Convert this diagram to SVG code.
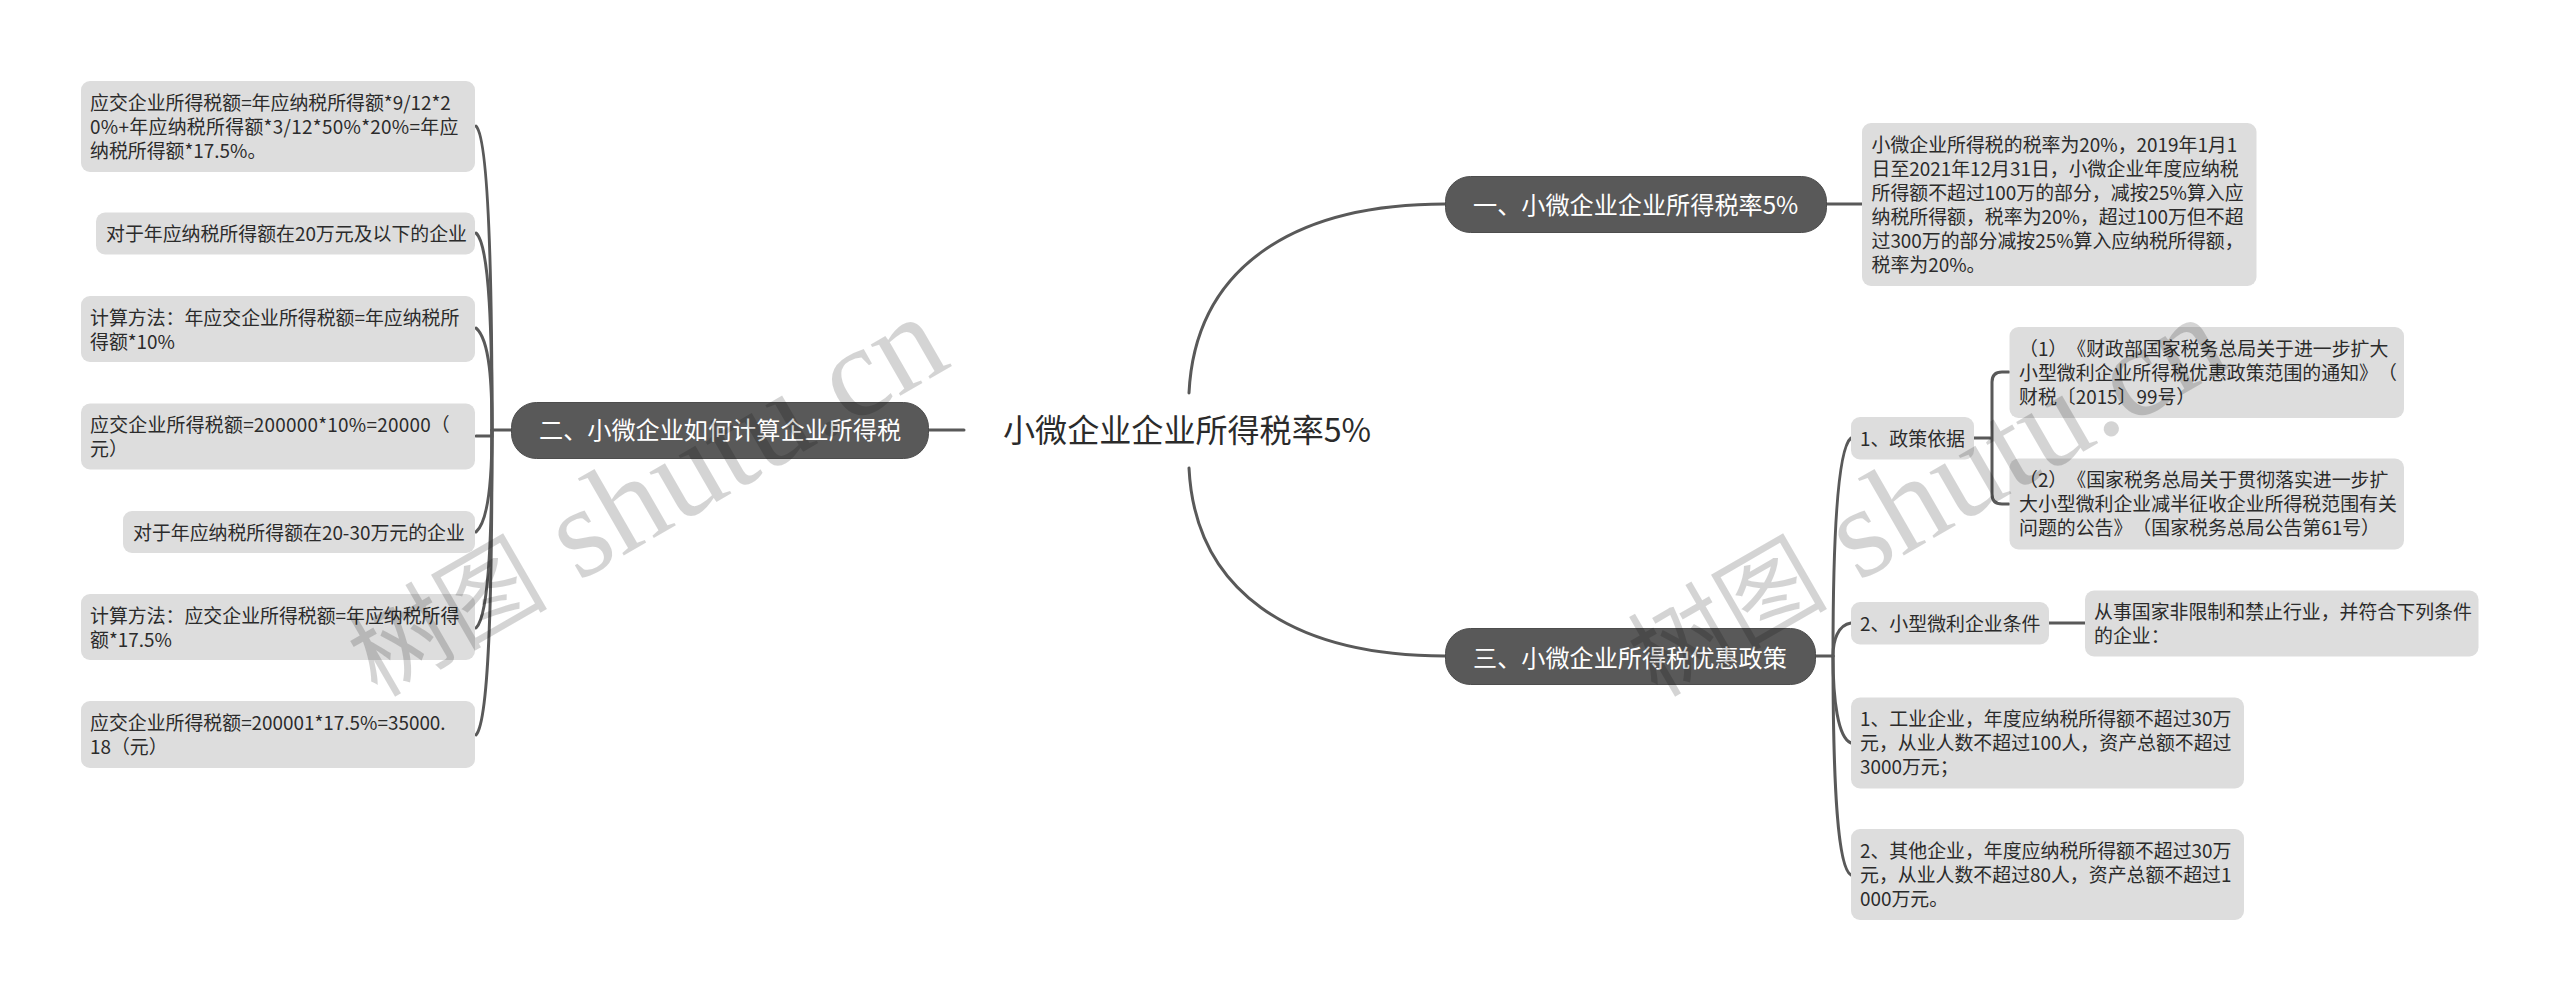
<svg xmlns="http://www.w3.org/2000/svg" width="2560" height="1001" viewBox="0 0 2560 1001">
<style>
text{font-family:"Noto Sans CJK SC","Noto Sans",sans-serif;text-spacing-trim:space-all;}
.box{fill:#dddddd;}
.t{font-size:18.9px;fill:#2b2b2b;}
.main{fill:#595959;stroke:#4d4d4d;stroke-width:1;}
.mt{font-size:24.15px;fill:#fff;}
.root{font-size:32.1px;fill:#2b2b2b;}
.conn{fill:none;stroke:#595959;stroke-width:3;stroke-linecap:round;}
.wm{fill:#000;fill-opacity:.17;}
.wc{font-family:"Noto Sans CJK SC",sans-serif;font-size:100px;}
.wl{font-family:"Liberation Serif",serif;font-size:129px;}
</style>
<g id="connectors">
<path class="conn" d="M1189 393C1195 270 1290 204 1445 204"/>
<path class="conn" d="M1189 468C1195 590 1290 656 1445 656"/>
<path class="conn" d="M929 430H964"/>
<path class="conn" d="M511 430H492"/>
<path class="conn" d="M492 430C492 300 490 140 476 126"/>
<path class="conn" d="M492 430C492 340 490 245 476 233"/>
<path class="conn" d="M492 430C492 385 490 340 476 328"/>
<path class="conn" d="M492 430V436H476"/>
<path class="conn" d="M492 430C492 470 490 520 476 532"/>
<path class="conn" d="M492 430C492 520 490 615 476 628"/>
<path class="conn" d="M492 430C492 570 490 720 476 735"/>
<path class="conn" d="M1827 204H1862"/>
<path class="conn" d="M1815 656H1833"/>
<path class="conn" d="M1833 656C1833 560 1836 450 1851 438"/>
<path class="conn" d="M1833 656C1833 640 1838 625 1851 623"/>
<path class="conn" d="M1833 656C1833 700 1838 738 1851 743"/>
<path class="conn" d="M1833 656C1833 790 1838 868 1851 875"/>
<path class="conn" d="M1974 438H1992M2009 372H2002Q1992 372 1992 382V494Q1992 504 2002 504H2009"/>
<path class="conn" d="M2049 623H2085"/>
</g>
<g id="root"><text class="root" x="1003" y="442">小微企业企业所得税率5%</text></g>
<g id="n1"><rect class="main" x="1445.5" y="176.5" width="381" height="56" rx="25"/><text class="mt" x="1473" y="214">一、小微企业企业所得税率5%</text></g>
<g id="n2"><rect class="main" x="511.5" y="402.5" width="417" height="56" rx="25"/><text class="mt" x="539" y="439">二、小微企业如何计算企业所得税</text></g>
<g id="n3"><rect class="main" x="1445.5" y="628.5" width="370" height="56" rx="25"/><text class="mt" x="1473" y="667">三、小微企业所得税优惠政策</text></g>
<g id="l1"><rect class="box" x="81" y="81" width="394" height="91" rx="9"/><text class="t" x="90" y="109.5">应交企业所得税额=年应纳税所得额*9/12*2</text><text class="t" x="90" y="133.5" letter-spacing=".3">0%+年应纳税所得额*3/12*50%*20%=年应</text><text class="t" x="90" y="157.5">纳税所得额*17.5%。</text></g>
<g id="l2"><rect class="box" x="96" y="212.5" width="379" height="42" rx="9"/><text class="t" x="106" y="241">对于年应纳税所得额在20万元及以下的企业</text></g>
<g id="l3"><rect class="box" x="81" y="296" width="394" height="66" rx="9"/><text class="t" x="90" y="324.5">计算方法：年应交企业所得税额=年应纳税所</text><text class="t" x="90" y="348.5">得额*10%</text></g>
<g id="l4"><rect class="box" x="81" y="403.5" width="394" height="66" rx="9"/><text class="t" x="90" y="432" letter-spacing=".25">应交企业所得税额=200000*10%=20000（</text><text class="t" x="90" y="456">元）</text></g>
<g id="l5"><rect class="box" x="123" y="511" width="352" height="42" rx="9"/><text class="t" x="133" y="539.5">对于年应纳税所得额在20-30万元的企业</text></g>
<g id="l6"><rect class="box" x="81" y="594" width="394" height="66" rx="9"/><text class="t" x="90" y="622.5">计算方法：应交企业所得税额=年应纳税所得</text><text class="t" x="90" y="646.5">额*17.5%</text></g>
<g id="l7"><rect class="box" x="81" y="701" width="394" height="67" rx="9"/><text class="t" x="90" y="729.5">应交企业所得税额=200001*17.5%=35000.</text><text class="t" x="90" y="753.5">18（元）</text></g>
<g id="r1"><rect class="box" x="1862" y="123" width="394.5" height="163" rx="9"/><text class="t" x="1871.5" y="151.5">小微企业所得税的税率为20%，2019年1月1</text><text class="t" x="1871.5" y="175.5">日至2021年12月31日，小微企业年度应纳税</text><text class="t" x="1871.5" y="199.5">所得额不超过100万的部分，减按25%算入应</text><text class="t" x="1871.5" y="223.5">纳税所得额，税率为20%，超过100万但不超</text><text class="t" x="1871.5" y="247.5">过300万的部分减按25%算入应纳税所得额，</text><text class="t" x="1871.5" y="271.5">税率为20%。</text></g>
<g id="r2"><rect class="box" x="1851" y="417" width="123" height="42.5" rx="9"/><text class="t" x="1860" y="445.5">1、政策依据</text></g>
<g id="r2a"><rect class="box" x="2009.5" y="327" width="394.5" height="91" rx="9"/><text class="t" x="2019" y="355.5">（1）《财政部国家税务总局关于进一步扩大</text><text class="t" x="2019" y="379.5">小型微利企业所得税优惠政策范围的通知》（</text><text class="t" x="2019" y="403.5">财税〔2015〕99号）</text></g>
<g id="r2b"><rect class="box" x="2009.5" y="458.5" width="394.5" height="91" rx="9"/><text class="t" x="2019" y="487">（2）《国家税务总局关于贯彻落实进一步扩</text><text class="t" x="2019" y="511">大小型微利企业减半征收企业所得税范围有关</text><text class="t" x="2019" y="535">问题的公告》（国家税务总局公告第61号）</text></g>
<g id="r3"><rect class="box" x="1851" y="602" width="198" height="42.5" rx="9"/><text class="t" x="1860" y="630.5">2、小型微利企业条件</text></g>
<g id="r3a"><rect class="box" x="2085" y="590.5" width="393.5" height="66" rx="9"/><text class="t" x="2094" y="619">从事国家非限制和禁止行业，并符合下列条件</text><text class="t" x="2094" y="643">的企业：</text></g>
<g id="r4"><rect class="box" x="1851" y="697.5" width="393" height="91" rx="9"/><text class="t" x="1860" y="726">1、工业企业，年度应纳税所得额不超过30万</text><text class="t" x="1860" y="750">元，从业人数不超过100人，资产总额不超过</text><text class="t" x="1860" y="774">3000万元；</text></g>
<g id="r5"><rect class="box" x="1851" y="829" width="393" height="91" rx="9"/><text class="t" x="1860" y="857.5">2、其他企业，年度应纳税所得额不超过30万</text><text class="t" x="1860" y="881.5">元，从业人数不超过80人，资产总额不超过1</text><text class="t" x="1860" y="905.5">000万元。</text></g>
<g id="watermark"><text class="wm" transform="translate(377 698) rotate(-30)"><tspan class="wc">树图</tspan><tspan class="wl"> shutu.cn</tspan></text><text class="wm" transform="translate(1657 698) rotate(-30)"><tspan class="wc">树图</tspan><tspan class="wl"> shutu.cn</tspan></text></g>
</svg>
